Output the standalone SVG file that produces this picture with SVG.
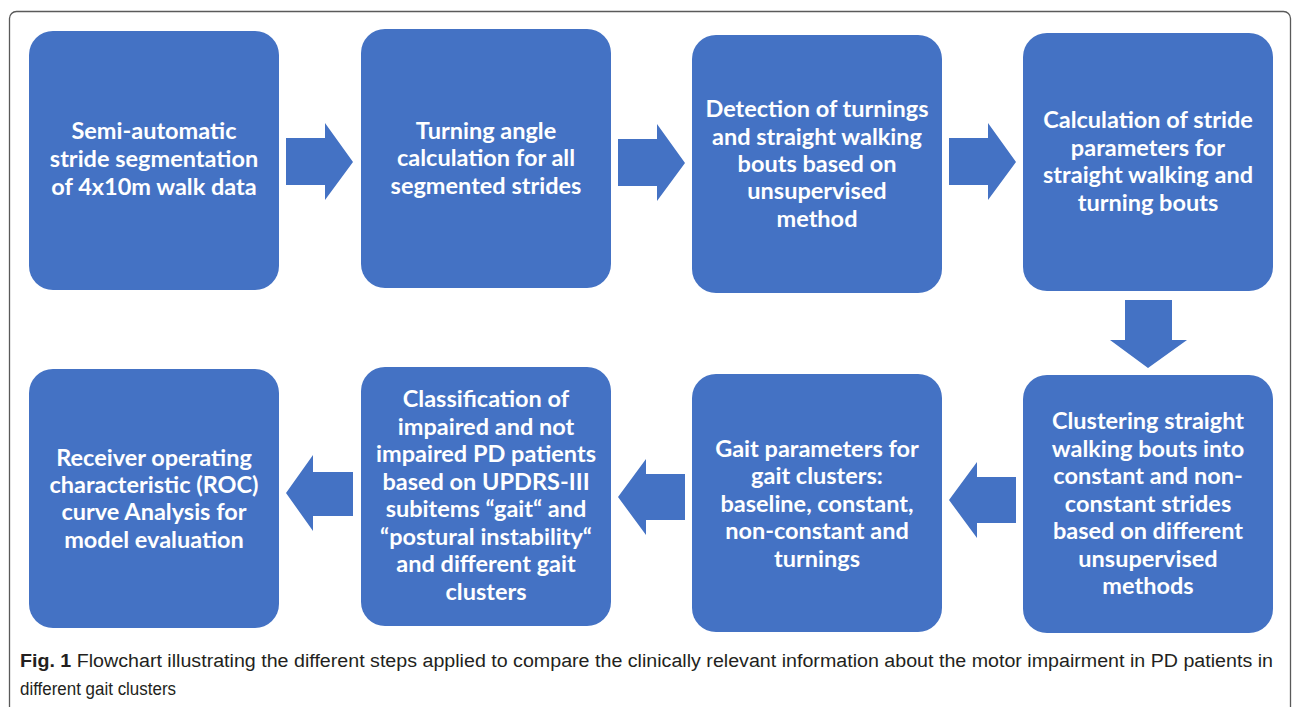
<svg xmlns="http://www.w3.org/2000/svg" width="1293" height="707" viewBox="0 0 1293 707">
<style>
.box{fill:#4472C4;}
.t{font-family:Lato,"Open Sans","Liberation Sans",sans-serif;font-weight:bold;font-size:23.5px;fill:#ffffff;text-anchor:middle;}
.arr{fill:#4472C4;}
.cap{font-family:"Liberation Sans",Arial,sans-serif;font-size:18px;fill:#231f20;}
</style>
<rect x="9.5" y="11.5" width="1281" height="740" rx="7" fill="none" stroke="#5a5a5a" stroke-width="1.3"/>

<g id="connectors">
<polygon class="arr" points="286,138 325,138 325,123 353,162 325,200 325,185 286,185"/>
<polygon class="arr" points="618,139 657,139 657,124 685,163 657,201 657,186 618,186"/>
<polygon class="arr" points="949,138 988,138 988,123 1016,162 988,200 988,185 949,185"/>
<polygon class="arr" points="1125,300 1172,300 1172,340 1187,340 1148,368 1110,340 1125,340"/>
<polygon class="arr" points="1016,477 977,477 977,462 949,500 977,538 977,523 1016,523"/>
<polygon class="arr" points="685,474 646,474 646,459 618,497 646,535 646,520 685,520"/>
<polygon class="arr" points="353,472 313,472 313,455 286,493 313,531 313,516 353,516"/>
</g>

<g id="n1">
<rect class="box" x="29" y="31" width="250" height="259" rx="24"/>
<text class="t" x="154" y="139">Semi-automatic</text>
<text class="t" x="154" y="167">stride segmentation</text>
<text class="t" x="154" y="195">of 4x10m walk data</text>
</g>
<g id="n2">
<rect class="box" x="361" y="29" width="250" height="259" rx="24"/>
<text class="t" x="486" y="139">Turning angle</text>
<text class="t" x="486" y="166">calculation for all</text>
<text class="t" x="486" y="194">segmented strides</text>
</g>
<g id="n3">
<rect class="box" x="692" y="35" width="250" height="258" rx="24"/>
<text class="t" x="817" y="117">Detection of turnings</text>
<text class="t" x="817" y="145">and straight walking</text>
<text class="t" x="817" y="172">bouts based on</text>
<text class="t" x="817" y="199">unsupervised</text>
<text class="t" x="817" y="227">method</text>
</g>
<g id="n4">
<rect class="box" x="1023" y="33" width="250" height="258" rx="24"/>
<text class="t" x="1148" y="128">Calculation of stride</text>
<text class="t" x="1148" y="156">parameters for</text>
<text class="t" x="1148" y="183">straight walking and</text>
<text class="t" x="1148" y="211">turning bouts</text>
</g>
<g id="n5">
<rect class="box" x="1023" y="375" width="250" height="258" rx="24"/>
<text class="t" x="1148" y="429">Clustering straight</text>
<text class="t" x="1148" y="457">walking bouts into</text>
<text class="t" x="1148" y="484">constant and non-</text>
<text class="t" x="1148" y="512">constant strides</text>
<text class="t" x="1148" y="539">based on different</text>
<text class="t" x="1148" y="567">unsupervised</text>
<text class="t" x="1148" y="594">methods</text>
</g>
<g id="n6">
<rect class="box" x="692" y="374" width="250" height="258" rx="24"/>
<text class="t" x="817" y="457">Gait parameters for</text>
<text class="t" x="817" y="484">gait clusters:</text>
<text class="t" x="817" y="512">baseline, constant,</text>
<text class="t" x="817" y="539">non-constant and</text>
<text class="t" x="817" y="567">turnings</text>
</g>
<g id="n7">
<rect class="box" x="361" y="367" width="250" height="259" rx="24"/>
<text class="t" x="486" y="407">Classification of</text>
<text class="t" x="486" y="435">impaired and not</text>
<text class="t" x="486" y="462">impaired PD patients</text>
<text class="t" x="486" y="490">based on UPDRS-III</text>
<text class="t" x="486" y="517">subitems “gait“ and</text>
<text class="t" x="486" y="545">“postural instability“</text>
<text class="t" x="486" y="572">and different gait</text>
<text class="t" x="486" y="600">clusters</text>
</g>
<g id="n8">
<rect class="box" x="29" y="369" width="250" height="259" rx="24"/>
<text class="t" x="154" y="466">Receiver operating</text>
<text class="t" x="154" y="493">characteristic (ROC)</text>
<text class="t" x="154" y="520">curve Analysis for</text>
<text class="t" x="154" y="548">model evaluation</text>
</g>

<g id="caption">
<text class="cap" x="20" y="667" textLength="1253" lengthAdjust="spacingAndGlyphs"><tspan font-weight="bold">Fig. 1</tspan> Flowchart illustrating the different steps applied to compare the clinically relevant information about the motor impairment in PD patients in</text>
<text class="cap" x="20" y="695" textLength="156" lengthAdjust="spacingAndGlyphs">different gait clusters</text>
</g>
</svg>
